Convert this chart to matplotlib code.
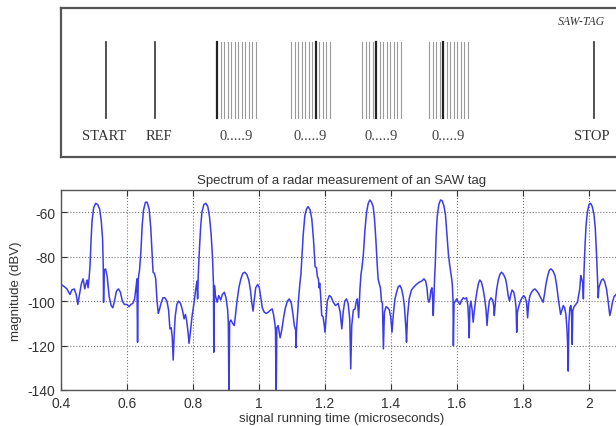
import matplotlib
matplotlib.use('Agg')
import matplotlib.pyplot as plt
from matplotlib.ticker import FormatStrFormatter

# traced spectrum (time in microseconds, magnitude in dBV)
time_us = [0.400, 0.410, 0.418, 0.427, 0.433, 0.440, 0.446, 0.451, 0.456, 0.462,
           0.467, 0.472, 0.476, 0.479, 0.482, 0.485, 0.488, 0.491, 0.494, 0.499,
           0.505, 0.511, 0.517, 0.522, 0.526, 0.528, 0.529, 0.531, 0.535, 0.540,
           0.546, 0.552, 0.557, 0.562, 0.568, 0.574, 0.580, 0.586, 0.592, 0.600,
           0.606, 0.612, 0.618, 0.623, 0.628, 0.630, 0.632, 0.634, 0.638, 0.642,
           0.646, 0.650, 0.656, 0.661, 0.667, 0.672, 0.676, 0.679, 0.683, 0.687,
           0.691, 0.695, 0.698, 0.703, 0.709, 0.715, 0.721, 0.726, 0.730, 0.734,
           0.737, 0.740, 0.743, 0.746, 0.751, 0.756, 0.762, 0.768, 0.773, 0.777,
           0.781, 0.785, 0.788, 0.792, 0.797, 0.803, 0.808, 0.812, 0.814, 0.816,
           0.819, 0.823, 0.827, 0.833, 0.839, 0.845, 0.850, 0.855, 0.859, 0.862,
           0.863, 0.865, 0.868, 0.873, 0.878, 0.884, 0.889, 0.895, 0.900, 0.905,
           0.907, 0.909, 0.911, 0.915, 0.920, 0.925, 0.929, 0.933, 0.939, 0.945,
           0.951, 0.957, 0.963, 0.969, 0.974, 0.978, 0.982, 0.986, 0.990, 0.996,
           1.001, 1.006, 1.010, 1.016, 1.022, 1.028, 1.035, 1.040, 1.044, 1.048,
           1.050, 1.052, 1.054, 1.058, 1.064, 1.069, 1.075, 1.080, 1.086, 1.092,
           1.098, 1.103, 1.107, 1.111, 1.112, 1.114, 1.118, 1.121, 1.124, 1.127,
           1.130, 1.134, 1.139, 1.144, 1.149, 1.155, 1.160, 1.165, 1.170, 1.174,
           1.177, 1.180, 1.182, 1.184, 1.187, 1.190, 1.194, 1.197, 1.200, 1.203,
           1.207, 1.213, 1.218, 1.225, 1.232, 1.240, 1.246, 1.251, 1.255, 1.260,
           1.265, 1.270, 1.275, 1.278, 1.281, 1.286, 1.291, 1.295, 1.298, 1.302,
           1.306, 1.309, 1.312, 1.316, 1.321, 1.326, 1.331, 1.336, 1.341, 1.346,
           1.350, 1.354, 1.358, 1.361, 1.365, 1.368, 1.371, 1.374, 1.377, 1.380,
           1.385, 1.390, 1.395, 1.399, 1.403, 1.407, 1.412, 1.417, 1.422, 1.427,
           1.432, 1.437, 1.441, 1.445, 1.447, 1.450, 1.455, 1.462, 1.470, 1.477,
           1.485, 1.493, 1.500, 1.505, 1.509, 1.512, 1.515, 1.518, 1.521, 1.524,
           1.526, 1.528, 1.530, 1.532, 1.534, 1.537, 1.540, 1.545, 1.550, 1.555,
           1.560, 1.565, 1.570, 1.574, 1.578, 1.581, 1.584, 1.586, 1.588, 1.589,
           1.591, 1.595, 1.599, 1.604, 1.609, 1.614, 1.619, 1.624, 1.629, 1.633,
           1.636, 1.637, 1.639, 1.642, 1.646, 1.649, 1.652, 1.656, 1.660, 1.665,
           1.669, 1.674, 1.679, 1.684, 1.688, 1.691, 1.694, 1.698, 1.703, 1.708,
           1.711, 1.713, 1.716, 1.720, 1.725, 1.730, 1.735, 1.741, 1.747, 1.751,
           1.755, 1.759, 1.763, 1.767, 1.772, 1.776, 1.779, 1.781, 1.783, 1.787,
           1.792, 1.797, 1.802, 1.807, 1.811, 1.814, 1.817, 1.821, 1.826, 1.831,
           1.836, 1.842, 1.847, 1.852, 1.857, 1.861, 1.865, 1.870, 1.875, 1.880,
           1.885, 1.891, 1.897, 1.902, 1.907, 1.911, 1.914, 1.918, 1.922, 1.926,
           1.930, 1.933, 1.935, 1.937, 1.939, 1.942, 1.945, 1.947, 1.949, 1.951,
           1.955, 1.960, 1.965, 1.969, 1.972, 1.975, 1.978, 1.981, 1.983, 1.985,
           1.988, 1.991, 1.995, 2.000, 2.005, 2.010, 2.015, 2.019, 2.023, 2.026,
           2.028, 2.030, 2.033, 2.038, 2.043, 2.048, 2.053, 2.058, 2.063, 2.067,
           2.071, 2.076, 2.082, 2.090, 2.100]

magnitude_dbv = [-92.5, -93.5, -94.5, -97, -95, -94.5, -97, -101.5, -97, -92,
                 -90, -94.5, -92, -90.5, -94, -90, -84, -73, -64, -58,
                 -56, -56.5, -58.5, -64, -72, -84, -100.5, -86, -85.5, -89,
                 -98, -102, -103, -100, -95.5, -94.5, -96, -100, -101.5, -101.5,
                 -102.5, -101.5, -101, -99, -93, -90, -118.5, -90, -86, -78,
                 -66, -59, -55.5, -55.5, -58.5, -67, -79, -87, -87.5, -90,
                 -100, -105.5, -104, -101, -98.5, -98.5, -100, -104, -112.5, -112,
                 -116, -126.5, -115, -107, -101.5, -100, -101, -104, -108, -106,
                 -109, -114, -119, -114, -107, -101, -95, -91, -99, -88,
                 -78, -67, -60, -56.5, -56, -57.5, -62, -70, -80, -92,
                 -123, -93, -97.5, -100.5, -97.5, -99.5, -97, -96, -98.5, -104,
                 -109.5, -145, -109.5, -108.5, -110, -111, -106, -100.5, -94, -90,
                 -87.5, -87, -88, -90.5, -95, -100.5, -104.5, -99, -94, -92.5,
                 -94, -99, -103, -105, -105.5, -105, -104, -103.5, -106, -110,
                 -113, -145, -112, -111, -116.5, -113, -107, -103, -100, -99,
                 -101, -106, -111, -113, -121, -112, -103, -97, -92, -88,
                 -80, -70, -61.5, -58.5, -57.5, -59, -63, -72, -84.5, -85,
                 -89, -90, -94, -92, -98, -106.5, -107, -110, -114, -108,
                 -100, -97.5, -98, -100.5, -102, -101, -105, -112.5, -105, -100,
                 -99, -101, -108, -130.5, -111, -104, -103.5, -100, -99, -107.5,
                 -94.5, -88, -85, -79.5, -68, -60, -56, -54.5, -55.5, -57.5,
                 -63, -72, -83, -90, -92.5, -94, -100, -101, -121.5, -105,
                 -102.5, -103, -104, -107, -114, -106, -99, -96, -93.5, -93,
                 -94.5, -98, -103, -112, -118.5, -107, -99, -95, -93.5, -92.5,
                 -91.5, -91, -90, -91, -94, -99, -100.5, -99, -95, -94,
                 -98, -106.5, -99, -90, -84, -70, -62, -56.5, -54.5, -54.8,
                 -57, -61, -71, -79, -84, -87, -90, -93, -100, -120,
                 -101, -100, -99, -100.5, -101.5, -99.5, -98.5, -99, -98.5, -102,
                 -111, -116.5, -103, -100, -104, -109.5, -105, -100, -96, -92,
                 -90.5, -91.5, -94.5, -99, -104, -111, -105, -100, -98.5, -99.5,
                 -102, -106.5, -101, -95, -90.5, -88, -87, -88, -90, -93,
                 -97.5, -100, -97, -95, -96, -99, -103, -114, -105, -102.5,
                 -100, -98.5, -97.5, -98.5, -101, -107.5, -101, -97.5, -96, -95,
                 -94.5, -95.5, -96.5, -98, -99.5, -100.5, -97, -92, -88.5, -86,
                 -85.5, -86.5, -88.5, -93, -99, -103, -106, -104, -102, -103,
                 -106, -112, -118.5, -131.5, -110, -103, -102, -105, -119.5, -104,
                 -102.5, -101.5, -100.5, -97, -94.5, -88.5, -90, -92, -99, -86,
                 -75, -66, -60, -56.5, -56, -57.5, -61, -67, -79.5, -91.5,
                 -98.5, -94, -92.5, -90.5, -90, -91.5, -94.5, -100, -106.5, -104,
                 -100.5, -98, -97, -97.5, -99]

x_ticks = [0.4, 0.6, 0.8, 1.0, 1.2, 1.4, 1.6, 1.8, 2.0]
y_ticks = [-140, -120, -100, -80, -60]

# SAW tag schematic (diagram units of the top panel)
single_lines = [106, 155, 594]
single_labels = ['START', 'REF', 'STOP']
single_label_x = [104, 159, 592]
group_starts = [217, 291, 362, 429]
group_marked = [0, 7, 4, 4]
group_count = 12
group_step = 3.55
group_label = '0.....9'

plt.rcParams['font.family'] = ['Liberation Sans', 'DejaVu Sans']
plt.rcParams['axes.unicode_minus'] = False

fig = plt.figure(figsize=(6.16, 4.27), dpi=100)
W, H = 616.0, 427.0

# ---- top panel: the tag layout
ax_t = fig.add_axes([61 / W, 1 - 158 / H, (630 - 61) / W, (158 - 9) / H])
ax_t.set_xlim(61, 630)
ax_t.set_ylim(158, 9)
ax_t.set_xticks([])
ax_t.set_yticks([])
for s in ax_t.spines.values():
    s.set_color('#555555')
    s.set_linewidth(1.6)

for xp in single_lines:
    ax_t.plot([xp, xp], [43, 119], color='#333333', lw=1.2)
for lab, xp in zip(single_labels, single_label_x):
    ax_t.text(xp, 137, lab, ha='center', va='center', fontsize=10.5,
              family='Liberation Serif', color='#333333')

for g0, mk in zip(group_starts, group_marked):
    for k in range(group_count):
        xp = g0 + k * group_step
        if k == mk:
            ax_t.plot([xp, xp], [43, 119], color='#222222', lw=1.6)
        else:
            ax_t.plot([xp, xp], [43, 119], color='#9a9a9a', lw=0.8)
    ax_t.text(g0 + (group_count - 1) * group_step / 2, 137, group_label,
              ha='center', va='center', fontsize=10.5,
              family='Liberation Serif', color='#444444')

ax_t.text(581, 22, 'SAW-TAG', ha='center', va='center', fontsize=8.5,
          family='Liberation Serif', style='italic', color='#333333')

# ---- bottom panel: spectrum
ax = fig.add_axes([61 / W, 36 / H, (622 - 61) / W, (391 - 191) / H])
ax.plot(time_us, magnitude_dbv, color='#3b3bea', lw=1.1)
ax.set_xlim(0.4, 2.1)
ax.set_ylim(-140, -50)
ax.set_xticks(x_ticks)
ax.set_yticks(y_ticks)
ax.xaxis.set_major_formatter(FormatStrFormatter('%g'))
ax.grid(True, linestyle=':', color='#777777', lw=0.8)
ax.tick_params(direction='in', length=4, top=True, right=True,
               labelsize=10, colors='#333333', pad=4)
for s in ax.spines.values():
    s.set_color('#555555')
    s.set_linewidth(1.0)

ax.set_title('Spectrum of a radar measurement of an SAW tag', fontsize=9.5,
             color='#333333', pad=5)
ax.set_xlabel('signal running time (microseconds)', fontsize=9.5,
              color='#333333', labelpad=2)
ax.set_ylabel('magnitude (dBV)', fontsize=9.5, color='#333333', labelpad=4)

plt.savefig('out.png', dpi=100)
